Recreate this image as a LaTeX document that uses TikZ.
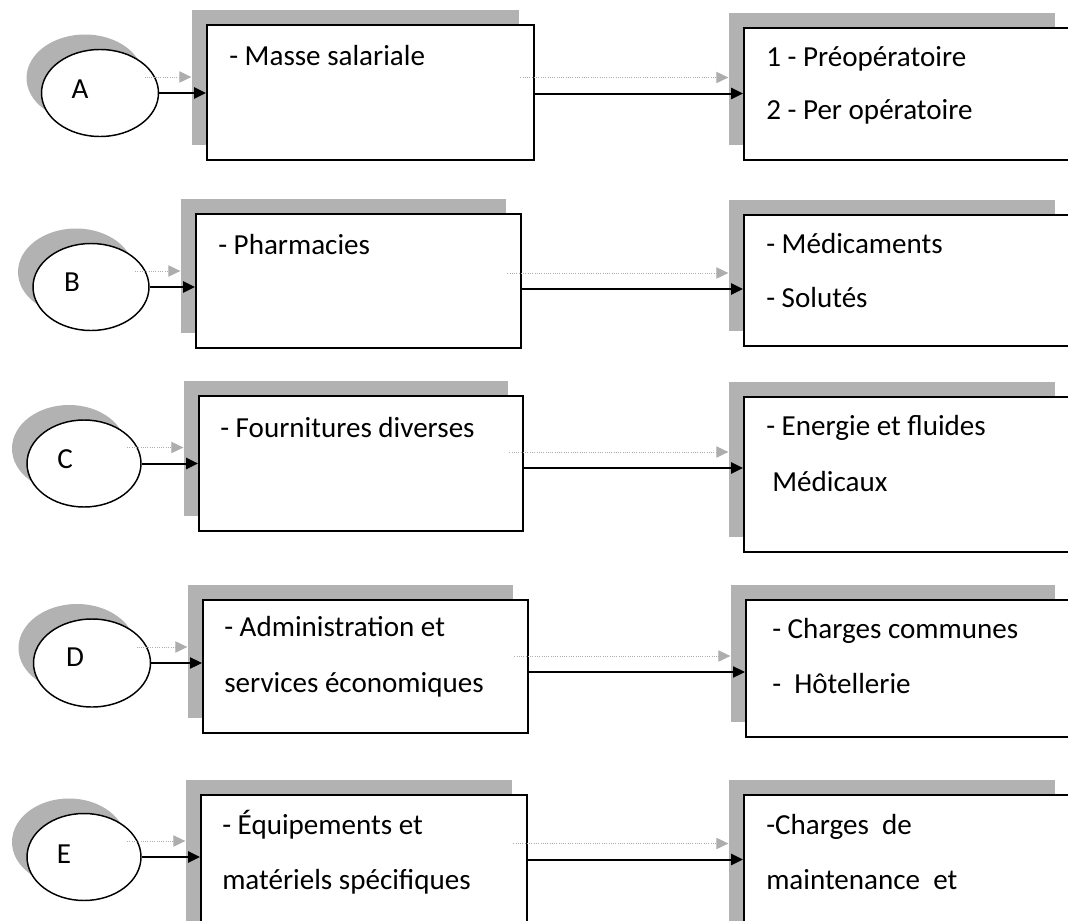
\documentclass[tikz,border=0pt]{standalone}
\usepackage{fontspec}
\setmainfont{Carlito}
\usetikzlibrary{arrows.meta,shadows,fit,shapes.geometric}
\begin{document}
\begin{tikzpicture}[x=0.75pt,y=-0.75pt,
  every node/.style={font=\fontsize{21.8pt}{26pt}\selectfont},
  txt/.style={anchor=base west, inner sep=0pt},
  lbl/.style={inner sep=0pt},
  shad/.style={general shadow={fill=black!30, shadow xshift=-11.25pt, shadow yshift=11.25pt}},
  boxnode/.style={draw, line width=1.5pt, fill=white, inner sep=0pt, shad},
  ell/.style={ellipse, draw, line width=1.1pt, fill=white, inner sep=0pt, shad},
  conn/.style={draw, line width=1.5pt, -{Triangle[length=9pt,width=8.5pt]}},
  thinconn/.style={draw, line width=0.8pt, -{Triangle[length=9pt,width=8.5pt]}},
  gconn/.style={draw=black!32, line width=0.7pt, densely dotted,
    -{Triangle[length=9pt,width=8.5pt,fill=black!32]},
    transform canvas={xshift=-11pt, yshift=12pt}},
]
\useasboundingbox (0,0) rectangle (1068,921);
\clip (0,0) rectangle (1068,921);

% ---------- Row A ----------
\node[ell, minimum width=87.75pt, minimum height=65.25pt] (eA) at (100,93) {};
\node[lbl] (lA) at (80,89) {A};
\node[boxnode, fit={(207,25) (534,160)}] (lbA) {};
\node[boxnode, fit={(744,28) (1070,160)}] (rbA) {};
\node[txt] (tA1) at (229,65) {- Masse salariale};
\node[txt] (tA2) at (766,66) {1 - Préopératoire};
\node[txt] (tA3) at (766,119) {2 - Per opératoire};
\coordinate (yA) at (0,93.5);

% ---------- Row B ----------
\node[ell, minimum width=87pt, minimum height=65.25pt] (eB) at (91,287) {};
\node[lbl] (lB) at (72,282) {B};
\node[boxnode, fit={(196,214) (521,348)}] (lbB) {};
\node[boxnode, fit={(744,215) (1070,346)}] (rbB) {};
\node[txt] (tB1) at (218,254) {- Pharmacies};
\node[txt] (tB2) at (766,253) {- Médicaments};
\node[txt] (tB3) at (766,307) {- Solutés};
\coordinate (yB) at (0,289);

% ---------- Row C ----------
\node[ell, minimum width=85.5pt, minimum height=65.25pt] (eC) at (84,463.5) {};
\node[lbl] (lC) at (65,459) {C};
\node[boxnode, fit={(199,396) (523,531)}] (lbC) {};
\node[boxnode, fit={(744,397) (1070,552)}] (rbC) {};
\node[txt] (tC1) at (220,437) {- Fournitures diverses};
\node[txt] (tC2) at (766,435) {- Energie et fluides};
\node[txt] (tC3) at (772,491) {Médicaux};
\coordinate (yC) at (0,468);

% ---------- Row D ----------
\node[ell, minimum width=87.75pt, minimum height=66pt] (eD) at (92,663) {};
\node[lbl] (lD) at (75,657) {D};
\node[boxnode, fit={(203,600) (528,733)}] (lbD) {};
\node[boxnode, fit={(746,600) (1070,737)}] (rbD) {};
\node[txt] (tD1) at (224,636) {- Administration et};
\node[txt] (tD2) at (224,692) {services économiques};
\node[txt] (tD3) at (772,638) {- Charges communes};
\node[txt] (tD4) at (772,693) {-~~Hôtellerie};
\coordinate (yD) at (0,672);

% ---------- Row E ----------
\node[ell, minimum width=85.5pt, minimum height=65.25pt] (eE) at (84,857) {};
\node[lbl] (lE) at (64,854) {E};
\node[boxnode, fit={(201,795) (527,960)}] (lbE) {};
\node[boxnode, fit={(744,795) (1070,960)}] (rbE) {};
\node[txt] (tE1) at (222,834) {- Équipements et};
\node[txt] (tE2) at (222,889) {matériels spécifiques};
\node[txt] (tE3) at (766,834) {-Charges~~de};
\node[txt] (tE4) at (766,889) {maintenance~~et};
\coordinate (yE) at (0,859.5);

% ---------- shadow connectors ----------
\foreach \r in {A,B,C,D,E}{
  \draw[gconn] (e\r.east) -- (e\r.east -| lb\r.west);
  \draw[gconn] (lb\r.east |- y\r) -- (rb\r.west |- y\r);
}

% ---------- connectors ----------
\draw[conn] (eA.east) -- (eA.east -| lbA.west);
\draw[conn] (lbA.east |- yA) -- (rbA.west |- yA);
\draw[conn] (eB.east) -- (eB.east -| lbB.west);
\draw[conn] (lbB.east |- yB) -- (rbB.west |- yB);
\draw[conn] (eC.east) -- (eC.east -| lbC.west);
\draw[conn] (lbC.east |- yC) -- (rbC.west |- yC);
\draw[thinconn] (eD.east) -- (eD.east -| lbD.west);
\draw[thinconn] (lbD.east |- yD) -- (rbD.west |- yD);
\draw[conn] (eE.east) -- (eE.east -| lbE.west);
\draw[conn] (lbE.east |- yE) -- (rbE.west |- yE);
\end{tikzpicture}
\end{document}
